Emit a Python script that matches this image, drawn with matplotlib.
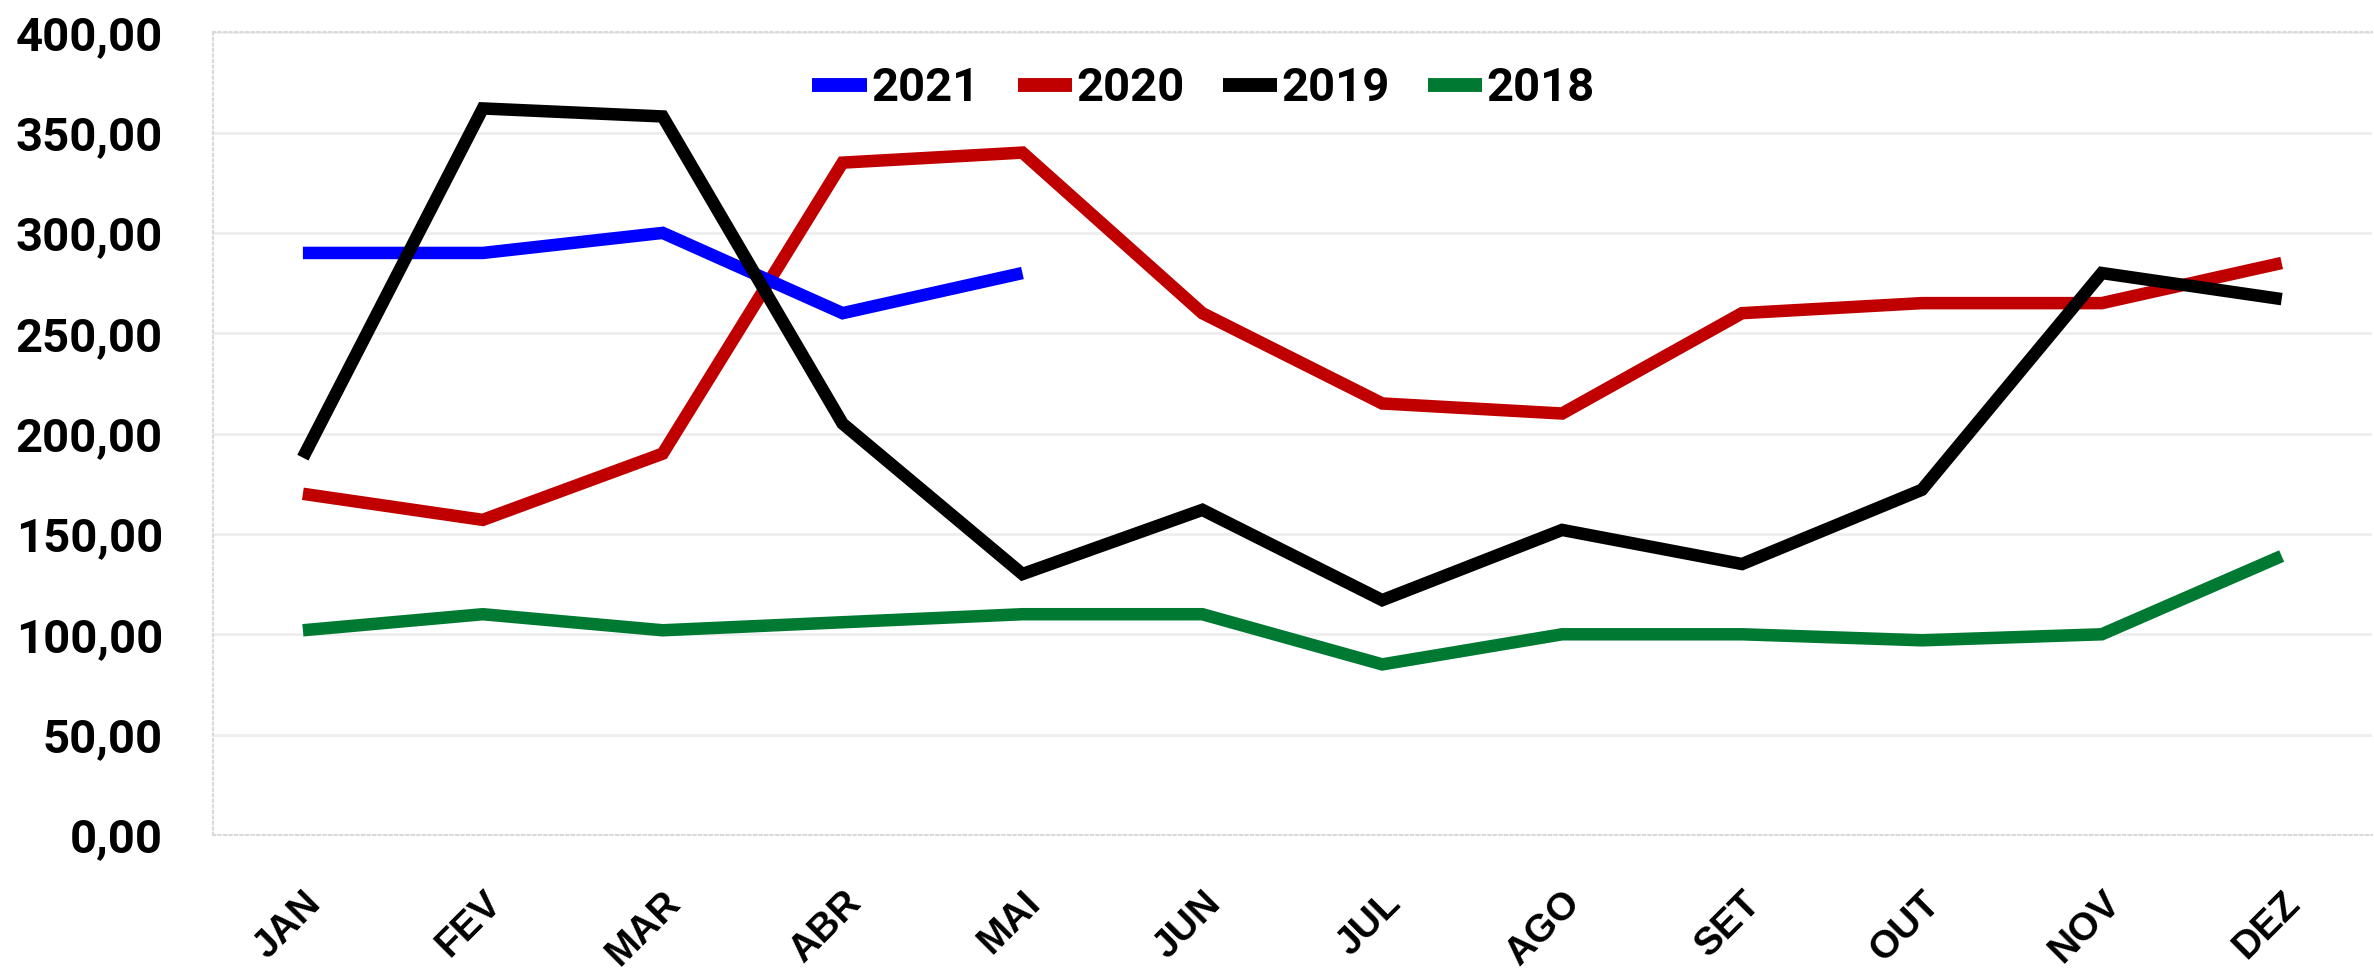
import numpy as np
import matplotlib.pyplot as plt
from matplotlib import font_manager

months = ['JAN', 'FEV', 'MAR', 'ABR', 'MAI', 'JUN', 'JUL', 'AGO', 'SET', 'OUT', 'NOV', 'DEZ']

vals_2021 = [290, 290, 300, 260, 280]
vals_2020 = [170, 157, 190, 335, 340, 260, 215, 210, 260, 265, 265, 285]
vals_2019 = [188, 362, 358, 205, 130, 162, 117, 152, 135, 172, 280, 267]
vals_2018 = [102, 110, 102, 106, 110, 110, 85, 100, 100, 97, 100, 139]

y_ticks = [0, 50, 100, 150, 200, 250, 300, 350, 400]

installed = {f.name for f in font_manager.fontManager.ttflist}
narrow = 'Liberation Sans Narrow' if 'Liberation Sans Narrow' in installed else 'Roboto'
wide = 'Liberation Sans'

fig = plt.figure(figsize=(23.74, 9.75), dpi=100)
ax = fig.add_axes([0.0897, 0.1436, 0.9093, 0.8234])

x = np.arange(len(months))
line_kw = dict(lw=9, solid_capstyle='butt', solid_joinstyle='miter')

# draw order: green under, black on top
l18, = ax.plot(x, vals_2018, color='#007a33', label='2018', **line_kw)
l20, = ax.plot(x, vals_2020, color='#c00000', label='2020', **line_kw)
l21, = ax.plot(x[:len(vals_2021)], vals_2021, color='#0000ff', label='2021', **line_kw)
l19, = ax.plot(x, vals_2019, color='black', label='2019', **line_kw)

ax.set_xlim(-0.5, len(months) - 0.5)
ax.set_ylim(0, 400)
ax.set_yticks(y_ticks)
ax.set_yticklabels([f'{v:.2f}'.replace('.', ',') for v in y_ticks],
                   fontsize=34, fontweight='bold', family=narrow)
ax.set_xticks(x)
ax.set_xticklabels(months, fontsize=28, fontweight='bold', family=wide,
                   rotation=45, ha='right', rotation_mode='anchor')
ax.tick_params(axis='y', length=0, pad=36)
ax.tick_params(axis='x', length=0, pad=36)

ax.grid(axis='y', color='#eeeeee', lw=2)
ax.set_axisbelow(True)
for side in ['top', 'left', 'bottom', 'right']:
    ax.spines[side].set_color('#d9d9d9')
    ax.spines[side].set_linestyle(':')
    ax.spines[side].set_linewidth(1.5)
ax.spines['right'].set_visible(False)

leg = ax.legend(handles=[l21, l20, l19, l18], loc='center', bbox_to_anchor=(0.459, 0.93),
                ncol=4, frameon=False, handlelength=1.15, handletextpad=0.1,
                columnspacing=0.8, prop={'family': narrow, 'weight': 'bold', 'size': 34})
for h in leg.legend_handles:
    h.set_linewidth(10)

fig.savefig('out.png', dpi=100)
